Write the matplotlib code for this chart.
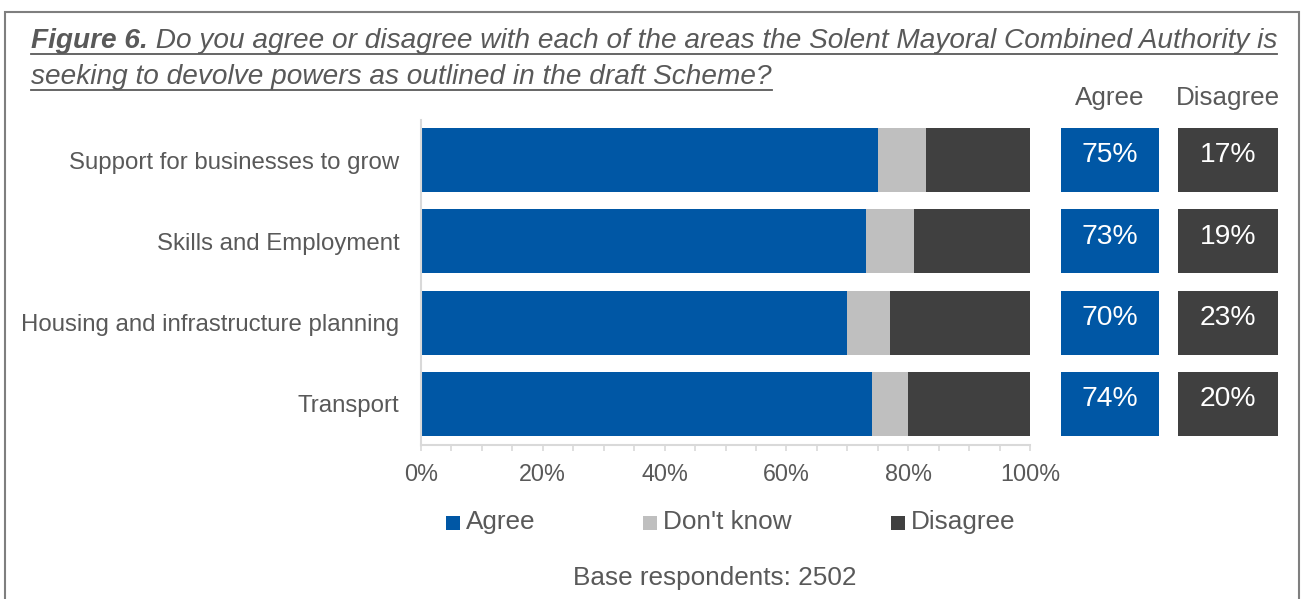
import matplotlib
matplotlib.use("Agg")
import matplotlib.pyplot as plt
from matplotlib.patches import Rectangle
from matplotlib.lines import Line2D
import numpy as np

plt.rcParams['font.family'] = ['Liberation Sans', 'DejaVu Sans']

categories = ["Support for businesses to grow", "Skills and Employment",
              "Housing and infrastructure planning", "Transport"]
agree = [75, 73, 70, 74]
dont_know = [8, 8, 7, 6]
disagree = [17, 19, 23, 20]
series_names = ["Agree", "Don't know", "Disagree"]
x_ticks = [0, 20, 40, 60, 80, 100]
x_ticklabels = ["0%", "20%", "40%", "60%", "80%", "100%"]
title_bold = "Figure 6."
title_line1 = " Do you agree or disagree with each of the areas the Solent Mayoral Combined Authority is"
title_line2 = "seeking to devolve powers as outlined in the draft Scheme?"
base_note = "Base respondents: 2502"

C_AGREE = "#0057A5"
C_DK = "#BFBFBF"
C_DIS = "#404040"
C_TEXT = "#595959"
COLORS = [C_AGREE, C_DK, C_DIS]

W, H = 1304, 599
fig = plt.figure(figsize=(W / 100, H / 100), dpi=100)

def fx(px):
    return px / W

def fy(py):
    return 1 - py / H

def add_axes_px(x0, y0, x1, y1):
    return fig.add_axes([fx(x0), fy(y1), fx(x1) - fx(x0), fy(y0) - fy(y1)])

# outer border
fig.add_artist(Rectangle((fx(5), fy(640)), fx(1299) - fx(5), fy(12) - fy(640),
                         transform=fig.transFigure, fill=False,
                         edgecolor="#7F7F7F", linewidth=1.5))

# main axes
ax = add_axes_px(421, 119.5, 1030, 444.5)
y = np.arange(len(categories))
h = 0.79
left = np.zeros(len(categories))
for vals, col in zip([agree, dont_know, disagree], COLORS):
    ax.barh(y, vals, left=left, height=h, color=col, edgecolor="none")
    left = left + np.array(vals)
ax.set_xlim(0, 100)
ax.set_ylim(len(categories) - 0.5, -0.5)
ax.set_yticks(y)
ax.set_yticklabels(categories, fontsize=17.3, color=C_TEXT)
ax.tick_params(axis='y', length=0, pad=15.5)
ax.set_xticks(x_ticks)
ax.set_xticklabels(x_ticklabels, fontsize=16.8, color=C_TEXT)
ax.set_xticks(np.arange(0, 101, 5), minor=True)
ax.tick_params(axis='x', which='both', length=4.5, color="#D9D9D9", width=1.2, pad=8.5)
for s in ["top", "right"]:
    ax.spines[s].set_visible(False)
for s in ["left", "bottom"]:
    ax.spines[s].set_color("#D9D9D9")
    ax.spines[s].set_linewidth(1.5)

# summary boxes
box_specs = [(1060.7, 1159.3, agree, C_AGREE, "Agree"),
             (1178.0, 1277.5, disagree, C_DIS, "Disagree")]
for x0, x1, vals, col, head in box_specs:
    bax = add_axes_px(x0, 119.5, x1, 444.5)
    bax.barh(y, [1] * len(vals), height=h, color=col, edgecolor="none")
    bax.set_xlim(0, 1)
    bax.set_ylim(len(categories) - 0.5, -0.5)
    bax.axis("off")
    for yi, v in zip(y, vals):
        bax.text(0.5, yi - 0.06, f"{v}%", ha="center", va="center",
                 color="white", fontsize=20.3)
    fig.text(fx((x0 + x1) / 2), fy(105), head, ha="center", va="baseline",
             fontsize=18.7, color=C_TEXT)

# legend (manual placement)
leg_x = [446, 643, 891]
for lx, name, col in zip(leg_x, series_names, COLORS):
    fig.add_artist(Rectangle((fx(lx), fy(529.5)), fx(14), 13.5 / H,
                             transform=fig.transFigure, color=col, linewidth=0))
    fig.text(fx(lx + 20), fy(529), name, ha="left", va="baseline",
             fontsize=18.8, color=C_TEXT)

fig.text(fx(715), fy(584.5), base_note, ha="center", va="baseline",
         fontsize=18.8, color=C_TEXT)

# title with underline
TFS = 20.2
t1 = fig.text(fx(31), fy(48.5), title_bold, ha="left", va="baseline",
              fontsize=TFS, fontweight="bold", fontstyle="italic", color=C_TEXT)
fig.canvas.draw()
r = fig.canvas.get_renderer()
bb = t1.get_window_extent(r)
t2 = fig.text(bb.x1 / W, fy(48.5), title_line1, ha="left", va="baseline",
              fontsize=TFS, fontstyle="italic", color=C_TEXT)
t3 = fig.text(fx(31), fy(83.8), title_line2, ha="left", va="baseline",
              fontsize=TFS, fontstyle="italic", color=C_TEXT)
fig.canvas.draw()
bb2 = t2.get_window_extent(r)
bb3 = t3.get_window_extent(r)
fig.add_artist(Line2D([fx(31), bb2.x1 / W], [fy(54), fy(54)],
                      transform=fig.transFigure, color=C_TEXT, linewidth=1.3))
fig.add_artist(Line2D([fx(31), bb3.x1 / W], [fy(89.5), fy(89.5)],
                      transform=fig.transFigure, color=C_TEXT, linewidth=1.3))

fig.savefig("out.png", dpi=100)
